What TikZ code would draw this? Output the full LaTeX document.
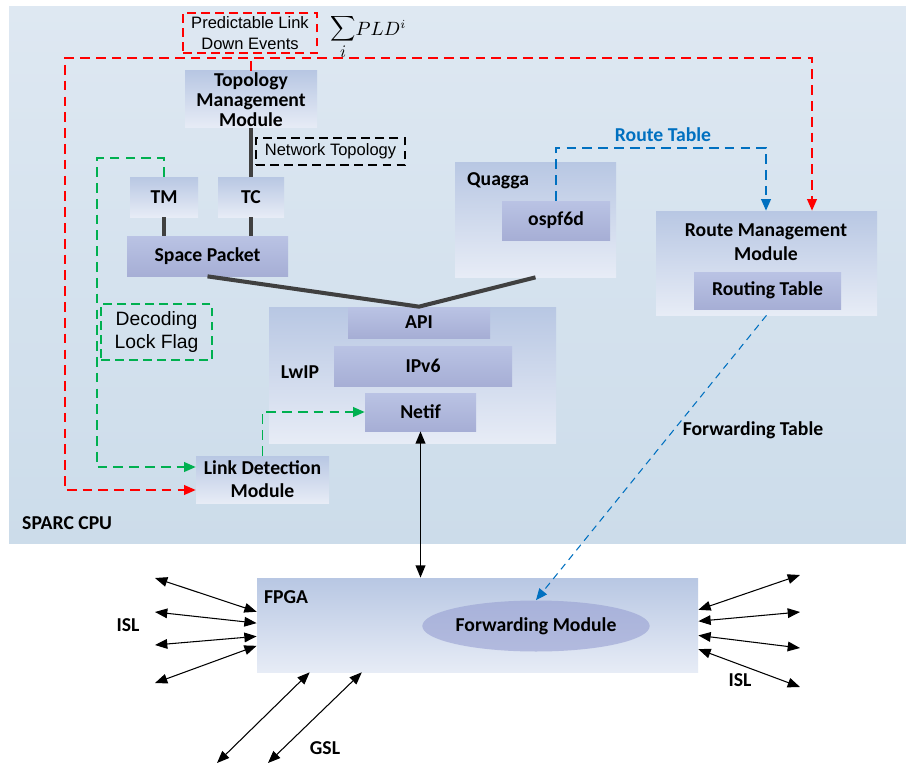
\documentclass[tikz,border=0pt]{standalone}
\usepackage{fontspec}
\setmainfont{Carlito}
\newfontfamily\arialfont{Liberation Sans}
\usetikzlibrary{arrows.meta,calc,shapes.geometric}

\definecolor{cputop}{RGB}{222,232,242}
\definecolor{cpubot}{RGB}{204,220,234}
\definecolor{outertop}{RGB}{184,199,227}
\definecolor{outerbot}{RGB}{231,236,246}
\definecolor{innertop}{RGB}{186,195,228}
\definecolor{innerbot}{RGB}{166,174,213}
\definecolor{elltop}{RGB}{168,178,218}
\definecolor{ellbot}{RGB}{178,186,222}
\definecolor{redline}{RGB}{255,0,0}
\definecolor{greenline}{RGB}{0,176,80}
\definecolor{routeblue}{RGB}{0,112,192}
\definecolor{busgray}{RGB}{64,64,64}

\begin{document}
\begin{tikzpicture}[x=0.02cm,y=-0.02cm,
  font=\fontsize{11.2}{11.4}\selectfont\bfseries,
  box/.style 2 args={minimum width=#1*0.02cm,minimum height=#2*0.02cm},
  outer/.style={inner sep=0pt,top color=outertop,bottom color=outerbot,align=center},
  inner/.style={inner sep=0pt,top color=innertop,bottom color=innerbot,align=center},
  note/.style={inner sep=0pt,line width=0.8pt,dash pattern=on 5pt off 3pt,align=center,
    font=\arialfont\mdseries\fontsize{9.4}{12}\selectfont},
  bus/.style={line width=2.3pt,draw=busgray},
  flow/.style={line width=0.8pt,dash pattern=on 5.5pt off 3.5pt,-{Triangle[length=6.5pt,width=5.5pt]}},
  link/.style={line width=0.6pt,{Triangle[length=7pt,width=5.5pt]}-{Triangle[length=7pt,width=5.5pt]}}]
\fill[white] (0,0) rectangle (906,767);
\useasboundingbox (0,0) rectangle (906,767);
\shade[top color=cputop,bottom color=cpubot] (9,7) rectangle (906,543);
\node[anchor=west] (cpu) at (16,523) {SPARC CPU};

% top part
\node[note,draw=redline,box={134}{40}] (pld) at (250,33) {Predictable Link\\Down Events};
\node[anchor=west,inner sep=0pt] (sum) at (330,37)
  {{\fontsize{14}{16}\selectfont$\displaystyle\sum_{i}$}{\fontsize{10.5}{12}\selectfont$PLD^{i}$}};
\node[outer,box={132}{57}] (tmm) at (251,99.5) {Topology\\Management\\Module};
\node[note,draw=black,box={149}{27}] (topo) at (330.5,151.5) {Network Topology};
\node[outer,box={68}{40}] (tm) at (164,197) {TM};
\node[outer,box={66}{40}] (tc) at (251,197) {TC};
\node[inner,box={161}{40}] (sp) at (207.5,256) {Space Packet};
\node[note,draw=greenline,font=\arialfont\mdseries\fontsize{11}{13}\selectfont,box={111}{56}] (dlf) at (156.5,332) {Decoding\\Lock Flag};

\node[outer,box={161}{115}] (quagga) at (535.5,219.5) {};
\node[anchor=west] (quaggalabel) at (461,181) {Quagga};
\node[inner,box={108}{39}] (ospf) at (556,220.5) {ospf6d};
\node[text=routeblue] (rtab) at (663,135) {Route Table};

\node[outer,box={221}{104}] (rmm) at (766.5,263) {};
\node[align=center,font=\fontsize{11.2}{13.6}\selectfont\bfseries] (rmmlabel) at (766,242) {Route Management\\Module};
\node[inner,box={147}{37}] (rt) at (767.5,290.5) {Routing Table};

% LwIP
\node[outer,box={287}{136}] (lwip) at (412.5,375) {};
\node (lwiplabel) at (300,372) {LwIP};
\node[inner,box={142}{31}] (api) at (419,322.5) {API};
\node[inner,box={178}{40}] (ipv6) at (423,366) {IPv6};
\node[inner,box={111}{38}] (netif) at (420.5,412) {Netif};

\node[outer,box={133}{47},font=\fontsize{11.2}{13}\selectfont\bfseries] (ldm) at (262.5,479.5) {Link Detection\\Module};
\node (fwdtab) at (753,430) {Forwarding Table};

% FPGA
\node[outer,box={441}{94}] (fpga) at (477.5,625) {};
\node (fpgalabel) at (286,597) {FPGA};
\node[ellipse,inner sep=0pt,top color=elltop,bottom color=ellbot,box={223}{51}] (fwd) at (536,626) {Forwarding Module};
\node (isl1) at (128,625) {ISL};
\node (isl2) at (740,680) {ISL};
\node (gsl) at (325,748) {GSL};

% connectors
\draw[bus] (tmm.south) -- (tc.north);
\draw[bus] (tm.south) -- (tm.south |- sp.north);
\draw[bus] (tc.south) -- (tc.south |- sp.north);
\draw[bus] (sp.south) -- (api.north) -- (quagga.south);

\coordinate (rl) at (65,58);
\coordinate (rr) at (812,58);
\draw[flow,redline] (tmm.north) |- (rl) |- ([yshift=-0.21cm]ldm.west);
\draw[flow,redline] (tmm.north) |- (rr) -- (rr |- rmm.north);

\coordinate (gl) at (97,158);
\draw[flow,greenline] (tm.north) |- (gl) |- ([yshift=0.25cm]ldm.west);
\draw[flow,greenline] (ldm.north) |- (netif.west);

\coordinate (bt) at (766,148);
\draw[flow,routeblue] (ospf.north) |- (bt) -- (bt |- rmm.north);
\draw[flow,routeblue,line width=0.6pt,dash pattern=on 4pt off 3pt] (rmm.south) -- (fwd.north);

\draw[link,line width=1pt] (netif.south) -- (netif.south |- fpga.north);
\foreach \y/\t in {578/0.36,612/0.48,645/0.62,683/0.72}
  \draw[link] (155,\y) -- ($(fpga.north west)!\t!(fpga.south west)$);
\foreach \y/\t in {575/0.34,612/0.46,648/0.61,687/0.755}
  \draw[link] (800,\y) -- ($(fpga.north east)!\t!(fpga.south east)$);
\foreach \x/\t in {217/0.12,268/0.238}
  \draw[link] (\x,763) -- ($(fpga.south west)!\t!(fpga.south east)$);
\end{tikzpicture}
\end{document}
